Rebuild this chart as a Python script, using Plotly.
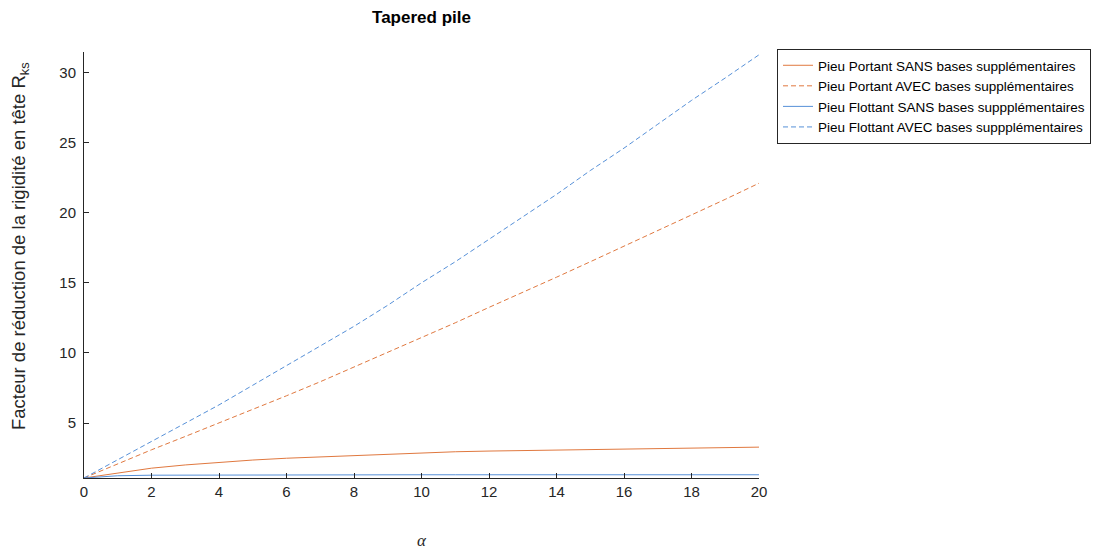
import plotly.graph_objects as go

alpha = list(range(0, 21))
portant_sans = [1.09, 1.45, 1.79, 2.02, 2.22, 2.37, 2.50, 2.60, 2.70, 2.79, 2.88,
                2.96, 3.01, 3.05, 3.09, 3.12, 3.15, 3.19, 3.22, 3.26, 3.29]
portant_avec = [1.09, 2.1, 3.1, 4.05, 5.0, 5.95, 6.95, 7.95, 9.0, 10.0, 11.1,
                12.15, 13.25, 14.3, 15.4, 16.5, 17.6, 18.7, 19.8, 20.95, 22.1]
flottant_sans = [1.09, 1.25, 1.29, 1.30, 1.31, 1.31, 1.31, 1.31, 1.32, 1.32, 1.32,
                 1.32, 1.32, 1.32, 1.32, 1.32, 1.32, 1.32, 1.32, 1.32, 1.32]
flottant_avec = [1.09, 2.4, 3.7, 5.0, 6.3, 7.7, 9.1, 10.5, 11.9, 13.4, 15.0,
                 16.5, 18.1, 19.7, 21.3, 23.0, 24.6, 26.3, 28.0, 29.6, 31.25]

names = ["Pieu Portant SANS bases supplémentaires",
         "Pieu Portant AVEC bases supplémentaires",
         "Pieu Flottant SANS bases suppplémentaires",
         "Pieu Flottant AVEC bases suppplémentaires"]

orange = "#E0783F"
blue = "#5690D8"

fig = go.Figure()
series = [(portant_sans, orange, "solid"), (portant_avec, orange, "5px,3px"),
          (flottant_sans, blue, "solid"), (flottant_avec, blue, "5px,3px")]
for (vals, col, dash), nm in zip(series, names):
    fig.add_trace(go.Scatter(x=alpha, y=vals, mode="lines", name=nm,
                             line=dict(color=col, width=1, dash=dash)))

axis_common = dict(showgrid=False, zeroline=False, showline=True, linecolor="#262626",
                   linewidth=1, ticks="inside", ticklen=5, tickcolor="#262626",
                   tickfont=dict(family="Liberation Sans, Arial", size=15, color="#262626"),
                   mirror=False)

# page body offsets the figure by 8px; plot area in window: x 84-759, y 52-478
fig.update_layout(
    width=1091, height=541,
    margin=dict(l=76, r=340, t=44, b=71, autoexpand=False),
    paper_bgcolor="white", plot_bgcolor="white",
    title=dict(text="<b>Tapered pile</b>", xref="paper", x=0.5, xanchor="center",
               y=1 - 9 / 541, yanchor="middle",
               font=dict(family="Liberation Sans, Arial", size=17, color="black")),
    xaxis=dict(range=[0, 20], tickmode="linear", tick0=0, dtick=2, **axis_common),
    yaxis=dict(range=[1.09, 31.45], tickmode="array", tickvals=[5, 10, 15, 20, 25, 30],
               ticklabelstandoff=4, **axis_common),
    legend=dict(x=(777 - 84) / 675, y=(478 - 49) / 426, xanchor="left", yanchor="top",
                bgcolor="white", bordercolor="#262626", borderwidth=1,
                font=dict(family="Liberation Sans, Arial", size=13.5, color="black"),
                tracegroupgap=0),
    showlegend=True,
)

fig.add_annotation(text="Facteur de réduction de la rigidité en tête R<sub>ks</sub>",
                   xref="paper", yref="paper", x=(20 - 84) / 675, y=(478 - 246) / 426,
                   xanchor="center", yanchor="middle", textangle=-90, showarrow=False,
                   font=dict(family="Liberation Sans, Arial", size=18.5, color="#262626"))
fig.add_annotation(text="<i>α</i>", xref="paper", yref="paper", x=0.5, y=(478 - 540) / 426,
                   xanchor="center", yanchor="middle", showarrow=False,
                   font=dict(family="Liberation Serif, Times New Roman, serif", size=17,
                             color="#262626"))

fig.write_html("out.html")
